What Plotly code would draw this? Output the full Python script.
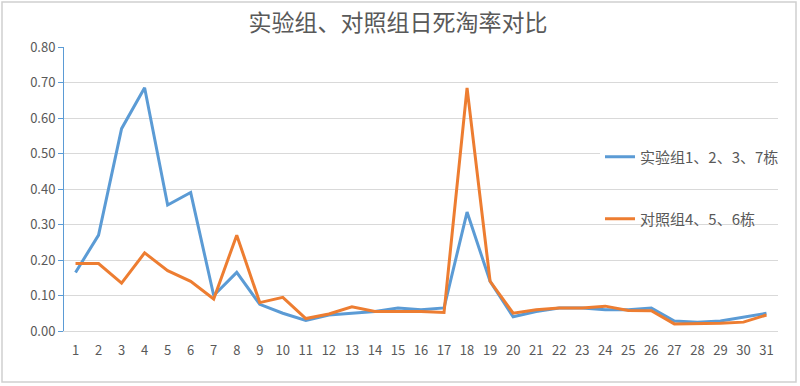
import plotly.graph_objects as go

days = list(range(1, 32))
day_labels = [str(d) for d in days]

exp_group = [0.165, 0.27, 0.57, 0.685, 0.355, 0.39, 0.10, 0.165, 0.075, 0.05,
             0.03, 0.045, 0.05, 0.055, 0.065, 0.06, 0.065, 0.335, 0.14, 0.04,
             0.055, 0.065, 0.065, 0.06, 0.06, 0.065, 0.028, 0.025, 0.028, 0.038, 0.05]
ctrl_group = [0.19, 0.19, 0.135, 0.22, 0.17, 0.14, 0.09, 0.27, 0.08, 0.095,
              0.035, 0.048, 0.068, 0.055, 0.055, 0.055, 0.052, 0.685, 0.14, 0.05,
              0.06, 0.065, 0.065, 0.07, 0.058, 0.057, 0.02, 0.02, 0.022, 0.025, 0.045]

y_ticks = [0.0, 0.1, 0.2, 0.3, 0.4, 0.5, 0.6, 0.7, 0.8]

FONT = "Noto Sans CJK SC, Noto Sans, sans-serif"
GRAY = "#595959"

fig = go.Figure()
fig.add_trace(go.Scatter(x=day_labels, y=exp_group, mode="lines",
                         name="实验组1、2、3、7栋",
                         line=dict(color="#5B9BD5", width=3), legend="legend"))
fig.add_trace(go.Scatter(x=day_labels, y=ctrl_group, mode="lines",
                         name="对照组4、5、6栋",
                         line=dict(color="#ED7D31", width=3), legend="legend2"))

L, R, T, B = 64, 22, 47, 55
W, H = 800, 386
pw, ph = W - L - R, H - T - B

def px_x(p):
    return (p - L) / pw

def px_y(p):
    return (H - B - p) / ph

fig.update_layout(
    width=W, height=H,
    margin=dict(l=L, r=R, t=T, b=B),
    paper_bgcolor="white", plot_bgcolor="white",
    font=dict(family=FONT, color=GRAY, size=13),
    title=dict(text="实验组、对照组日死淘率对比", x=398 / W, xref="container",
               xanchor="center", y=1 - 23 / H, yanchor="middle",
               font=dict(family=FONT, size=23, color=GRAY)),
    xaxis=dict(type="category", range=[-0.5, len(days) - 0.5],
               showgrid=False, showline=True, linecolor="#D9D9D9",
               linewidth=1, ticks="outside", ticklen=7, tickcolor="rgba(0,0,0,0)",
               tickfont=dict(size=13, color=GRAY)),
    yaxis=dict(range=[0, 0.8], tickvals=y_ticks, tickformat=".2f",
               showgrid=True, gridcolor="#D9D9D9", gridwidth=1,
               showline=True, linecolor="#5B9BD5", linewidth=1,
               ticks="outside", ticklen=5, tickcolor="#5B9BD5",
               zeroline=False, tickfont=dict(size=13, color=GRAY)),
    legend=dict(x=px_x(600), y=px_y(157), xanchor="left", yanchor="middle",
                bgcolor="white", font=dict(family=FONT, size=15, color=GRAY)),
    legend2=dict(x=px_x(600), y=px_y(219), xanchor="left", yanchor="middle",
                 bgcolor="rgba(0,0,0,0)", font=dict(family=FONT, size=15, color=GRAY)),
    showlegend=True,
)

fig.add_shape(type="rect", xref="paper", yref="paper",
              x0=px_x(2), x1=px_x(796), y0=px_y(382), y1=px_y(2),
              line=dict(color="#D0D0D0", width=1.5), fillcolor="rgba(0,0,0,0)", layer="below")

fig.write_html("out.html", config={"displayModeBar": False},
               post_script="document.body.style.margin='0px';document.body.style.overflow='hidden';")
